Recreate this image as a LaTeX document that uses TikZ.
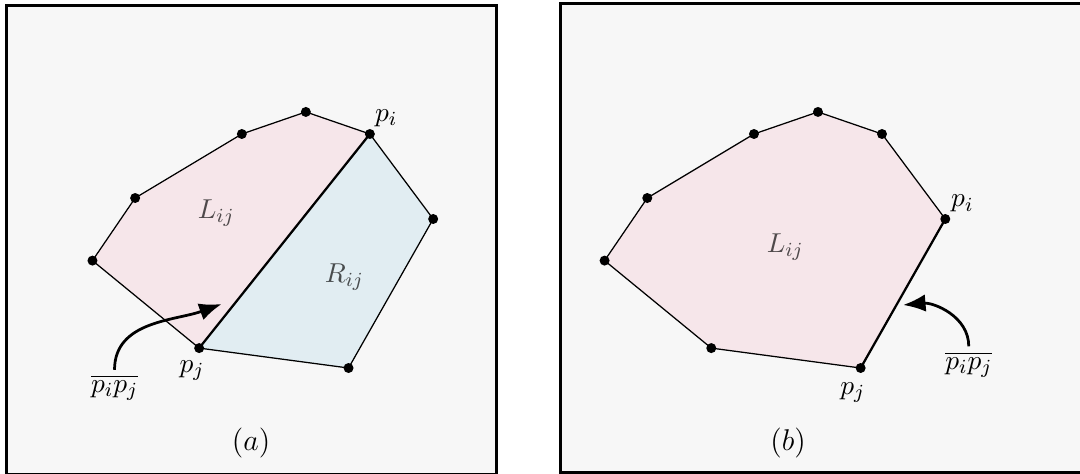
\documentclass[tikz,border=0pt]{standalone}
\usepackage{amsmath}
\usepackage{amssymb}
\usepackage{xcolor}
\usepackage{tikz}
\usetikzlibrary{arrows.meta}
\definecolor{panelbg}{RGB}{247,247,247}
\definecolor{leftpink}{RGB}{246,230,234}
\definecolor{rightblue}{RGB}{225,237,242}

\begin{document}
\begin{tikzpicture}[
  panel/.style={fill=panelbg, draw=black, line width=1.2pt},
  hull/.style={draw=black, line width=0.5pt, line join=round},
  split/.style={draw=black, line width=0.9pt},
  pointer/.style={-{Latex[length=9pt,width=7pt]}, line width=1.1pt},
  ptlab/.style={font=\fontsize{11}{13}\selectfont},
  region/.style={font=\fontsize{11}{13}\selectfont, text=black, text opacity=0.68},
  ]
\useasboundingbox (0,0) rectangle (15.184,6.664);
\clip (0,0) rectangle (15.184,6.664);
\fill[white] (0,0) rectangle (15.184,6.664);
\draw[panel] (0.091,-0.014) rectangle (6.98,6.58);
\draw[panel] (7.88,0.028) rectangle (15.226,6.615);
\begin{scope}
\coordinate (a1) at (1.3,3.0);
\coordinate (a2) at (1.9,3.88);
\coordinate (a3) at (3.4,4.78);
\coordinate (a4) at (4.3,5.09);
\coordinate (pia) at (5.2,4.78);
\coordinate (a6) at (6.09,3.585);
\coordinate (a7) at (4.9,1.49);
\coordinate (pja) at (2.8,1.77);
\coordinate (tipa) at (3.117,2.39);
\fill[leftpink] (a1) -- (a2) -- (a3) -- (a4) -- (pia) -- (pja) -- cycle;
\fill[rightblue] (pia) -- (a6) -- (a7) -- (pja) -- cycle;
\draw[hull] (pja) -- (a1) -- (a2) -- (a3) -- (a4) -- (pia) -- (a6) -- (a7) -- cycle;
\draw[split] (pia) -- (pja);
\foreach \v in {a1,a2,a3,a4,pia,a6,a7,pja} \fill (\v) circle (2pt);
\node[ptlab] (pialab) at (5.43,5.0) {$p_i$};
\node[ptlab] (pjalab) at (2.70,1.45) {$p_j$};
\node[region] (Llaba) at (3.04,3.67) {$L_{ij}$};
\node[region] (Rlaba) at (4.84,2.77) {$R_{ij}$};
\node[ptlab, inner sep=2pt] (segalab) at (1.61,1.21) {$\overline{p_ip_j}$};
\node (capa) at (3.53,0.44) {\large $(a)$};
\draw[pointer] (segalab.north) to[out=90,in=200] (tipa);
\end{scope}
\begin{scope}[shift={(7.2,0)}]
\coordinate (b1) at (1.3,3.0);
\coordinate (b2) at (1.9,3.88);
\coordinate (b3) at (3.4,4.78);
\coordinate (b4) at (4.3,5.09);
\coordinate (b5) at (5.2,4.78);
\coordinate (pib) at (6.09,3.585);
\coordinate (pjb) at (4.9,1.49);
\coordinate (b8) at (2.8,1.77);
\coordinate (tipb) at (5.496,2.376);
\fill[leftpink] (b1) -- (b2) -- (b3) -- (b4) -- (b5) -- (pib) -- (pjb) -- (b8) -- cycle;
\draw[hull] (pib) -- (b5) -- (b4) -- (b3) -- (b2) -- (b1) -- (b8) -- (pjb);
\draw[split] (pib) -- (pjb);
\foreach \v in {b1,b2,b3,b4,b5,pib,pjb,b8} \fill (\v) circle (2pt);
\node[ptlab] (piblab) at (6.33,3.80) {$p_i$};
\node[ptlab] (pjblab) at (4.79,1.14) {$p_j$};
\node[region] (Llabb) at (3.84,3.19) {$L_{ij}$};
\node[ptlab, inner sep=2pt] (segblab) at (6.42,1.54) {$\overline{p_ip_j}$};
\node (capb) at (3.88,0.44) {\large $(b)$};
\draw[pointer] (segblab.north) to[out=90,in=5] (tipb);
\end{scope}
\end{tikzpicture}
\end{document}
